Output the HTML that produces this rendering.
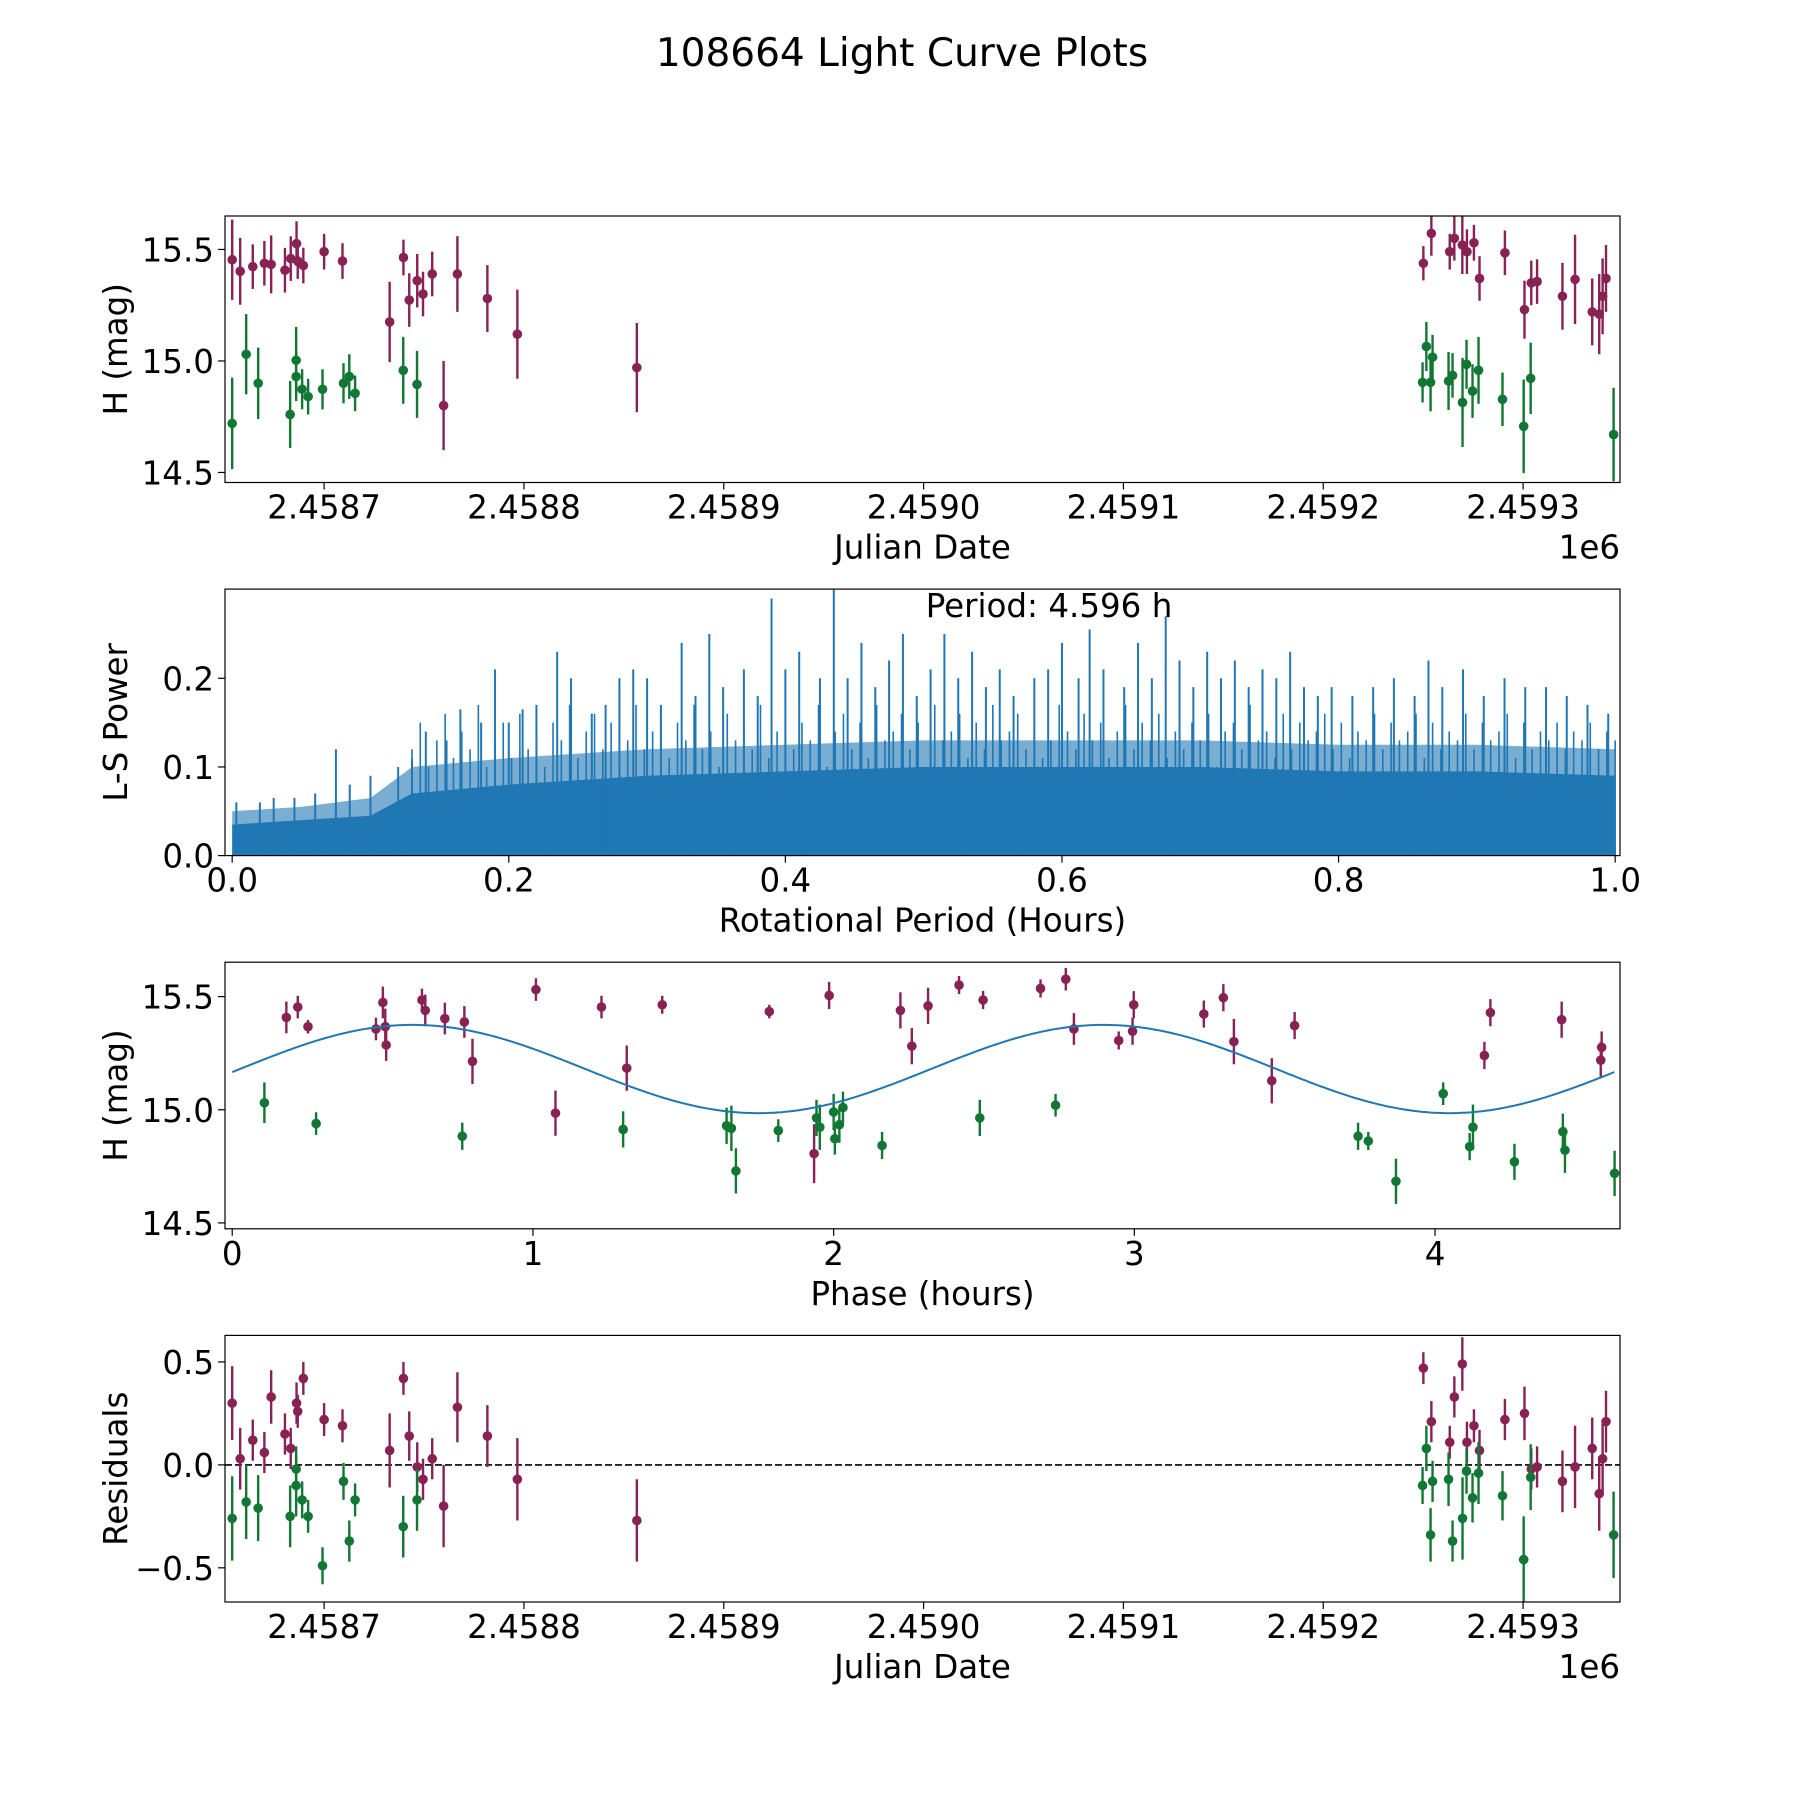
<!DOCTYPE html>
<html><head><meta charset="utf-8"><style>
html,body{margin:0;padding:0;background:#fff;}
svg{display:block;font-family:"DejaVu Sans","Liberation Sans",sans-serif;}
</style></head><body>
<svg id="fig" width="1800" height="1800" viewBox="0 0 1800 1800" xmlns="http://www.w3.org/2000/svg">
<rect width="1800" height="1800" fill="#fff"/>
<text x="902" y="66" font-size="39" text-anchor="middle">108664 Light Curve Plots</text>
</svg>
<script>
// ---------- data ----------
const magJD = [2458654.0,2458658.0,2458664.3,2458670.1,2458673.5,2458680.4,2458683.3,2458686.2,2458686.8,2458689.6,2458700.0,2458709.2,2458732.8,2458739.7,2458742.6,2458746.6,2458749.5,2458754.1,2458759.8,2458766.7,2458781.7,2458796.7,2458856.5,
 2459250.1,2459254.1,2459263.3,2459265.6,2459269.6,2459271.9,2459275.4,2459278.2,2459290.9,2459300.7,2459304.1,2459307.0,2459319.7,2459326.0,2459334.6,2459338.1,2459339.8,2459341.5];
const magH = [15.454,15.402,15.423,15.438,15.433,15.407,15.459,15.526,15.448,15.428,15.49,15.448,15.175,15.464,15.273,15.36,15.30,15.39,14.80,15.39,15.28,15.12,14.97,
 15.438,15.572,15.49,15.55,15.52,15.49,15.53,15.37,15.485,15.23,15.35,15.356,15.29,15.366,15.22,15.21,15.29,15.37];
const magErr = [0.18,0.15,0.1,0.1,0.13,0.1,0.1,0.1,0.08,0.08,0.08,0.08,0.18,0.08,0.12,0.12,0.1,0.1,0.2,0.17,0.15,0.2,0.2,
 0.077,0.1,0.08,0.1,0.13,0.1,0.08,0.1,0.1,0.13,0.1,0.1,0.15,0.2,0.15,0.18,0.17,0.15];
const grnJD = [2458654.0,2458661.0,2458667.0,2458683.0,2458686.0,2458686.0,2458689.0,2458692.0,2458699.2,2458709.7,2458712.6,2458715.5,2458739.6,2458746.5,
 2459249.7,2459251.6,2459253.7,2459254.7,2459262.7,2459264.7,2459269.7,2459271.7,2459274.7,2459277.7,2459289.7,2459300.3,2459303.8,2459345.3];
const grnH = [14.72,15.03,14.90,14.76,15.003,14.93,14.873,14.84,14.873,14.90,14.93,14.855,14.958,14.895,
 14.904,15.065,14.904,15.017,14.91,14.935,14.814,14.985,14.865,14.958,14.828,14.707,14.922,14.67];
const grnErr = [0.205,0.18,0.16,0.15,0.15,0.11,0.09,0.08,0.09,0.09,0.1,0.08,0.15,0.15,
 0.09,0.11,0.13,0.1,0.13,0.1,0.2,0.11,0.12,0.15,0.12,0.21,0.16,0.21];
const magRes = [0.30,0.03,0.12,0.06,0.33,0.15,0.08,0.30,0.26,0.42,0.22,0.19,0.07,0.42,0.14,-0.01,-0.07,0.03,-0.20,0.28,0.14,-0.07,-0.27,
 0.47,0.21,0.11,0.33,0.49,0.11,0.19,0.07,0.22,0.25,-0.02,-0.01,-0.08,-0.01,0.08,-0.14,0.03,0.21];
const grnRes = [-0.26,-0.18,-0.21,-0.25,-0.10,-0.02,-0.17,-0.25,-0.49,-0.08,-0.37,-0.17,-0.30,-0.17,
 -0.10,0.08,-0.34,-0.08,-0.07,-0.37,-0.26,-0.03,-0.16,-0.04,-0.15,-0.46,-0.06,-0.34];
const magPhase = [0.18,0.218,0.252,0.478,0.501,0.509,0.512,0.631,0.642,0.707,0.772,0.799,1.01,1.075,1.228,1.312,1.43,1.786,1.935,1.985,2.222,2.26,2.314,2.417,2.497,2.688,2.772,2.799,2.948,2.994,2.998,3.231,3.296,3.331,3.457,3.533,4.164,4.184,4.421,4.554,4.551];
const magPhaseH = [15.408,15.454,15.367,15.357,15.474,15.367,15.286,15.485,15.439,15.403,15.388,15.214,15.531,14.985,15.454,15.184,15.464,15.434,14.806,15.505,15.439,15.281,15.459,15.551,15.485,15.536,15.577,15.357,15.306,15.347,15.464,15.423,15.495,15.301,15.128,15.372,15.24,15.429,15.398,15.276,15.219];
const magPhaseErr = [0.07,0.05,0.03,0.05,0.07,0.08,0.07,0.05,0.07,0.07,0.07,0.1,0.05,0.1,0.05,0.1,0.04,0.03,0.13,0.06,0.08,0.08,0.08,0.04,0.04,0.04,0.05,0.07,0.04,0.06,0.06,0.06,0.06,0.1,0.1,0.06,0.06,0.06,0.08,0.07,0.08];
const grnPhase = [0.107,0.279,0.765,1.3,1.644,1.66,1.675,1.816,1.943,1.954,2.0,2.004,2.019,2.031,2.161,2.486,2.738,3.744,3.778,3.87,4.027,4.115,4.126,4.264,4.425,4.432,4.597];
const grnPhaseH = [15.031,14.939,14.883,14.913,14.929,14.918,14.73,14.908,14.964,14.923,14.99,14.872,14.934,15.01,14.842,14.964,15.02,14.883,14.862,14.684,15.071,14.837,14.923,14.77,14.903,14.821,14.719];
const grnPhaseErr = [0.09,0.05,0.06,0.08,0.08,0.1,0.1,0.05,0.08,0.1,0.08,0.07,0.08,0.07,0.06,0.08,0.05,0.06,0.04,0.1,0.05,0.06,0.1,0.08,0.08,0.1,0.1];
const modelMean = 15.18, modelAmp = 0.195, modelPeakPhase = 0.6, modelHalfPeriod = 2.298;
const periodTickLabels = ["0.0","0.2","0.4","0.6","0.8","1.0"];
const spikeX = [0.003,0.02,0.03,0.045,0.06,0.075,0.085,0.1,0.12,0.13,0.14,0.155,0.165,0.18,0.19,0.2,0.21,0.22,0.235,0.245,0.26,0.27,0.28,0.29,0.3,0.31,0.325,0.335,0.345,0.355,0.37,0.38,0.39,0.4,0.41,0.425,0.435,0.445,0.455,0.465,0.475,0.485,0.495,0.505,0.515,0.525,0.535,0.545,0.555,0.565,0.58,0.59,0.6,0.612,0.62,0.63,0.645,0.655,0.665,0.675,0.685,0.695,0.705,0.715,0.725,0.735,0.745,0.755,0.765,0.775,0.785,0.795,0.81,0.825,0.84,0.855,0.865,0.875,0.89,0.905,0.92,0.935,0.95,0.965,0.98,0.995];
const spikeP = [0.06,0.06,0.065,0.065,0.07,0.12,0.08,0.09,0.1,0.11,0.14,0.13,0.165,0.15,0.21,0.15,0.165,0.17,0.23,0.2,0.16,0.17,0.2,0.21,0.2,0.17,0.24,0.18,0.25,0.19,0.21,0.18,0.29,0.21,0.23,0.2,0.30,0.2,0.24,0.19,0.22,0.25,0.18,0.21,0.25,0.2,0.23,0.19,0.21,0.18,0.2,0.21,0.24,0.2,0.255,0.21,0.19,0.24,0.2,0.27,0.22,0.19,0.23,0.2,0.22,0.19,0.21,0.2,0.23,0.19,0.18,0.19,0.18,0.19,0.2,0.18,0.22,0.19,0.21,0.18,0.2,0.19,0.19,0.18,0.17,0.16];
const midStart = 0.13, midStep = 0.006;
const midP = [.12,.15,.10,.13,.16,.11,.14,.12,.17,.10,
.13,.15,.11,.16,.12,.14,.10,.15,.13,.17,
.11,.14,.16,.12,.15,.10,.13,.17,.12,.14,
.16,.11,.15,.13,.17,.12,.14,.10,.16,.13,
.15,.12,.17,.11,.14,.16,.12,.15,.13,.17,
.10,.14,.16,.12,.15,.11,.17,.13,.14,.16,
.12,.15,.10,.17,.13,.14,.16,.11,.15,.12,
.17,.13,.14,.16,.12,.15,.11,.13,.17,.14,
.12,.16,.13,.15,.11,.14,.17,.12,.15,.13,
.16,.11,.14,.12,.15,.13,.16,.10,.14,.15,
.12,.17,.13,.14,.11,.16,.12,.15,.13,.14,
.16,.12,.15,.11,.14,.13,.16,.12,.15,.13,
.14,.16,.11,.15,.12,.14,.13,.16,.12,.15,
.13,.14,.16,.11,.15,.12,.14,.13,.15,.12,
.14,.13,.15,.12,.14,.13];
const envX = [0.0,0.05,0.1,0.13,0.2,0.3,0.4,0.5,0.6,0.7,0.8,0.9,1.0];
const envCore = [0.035,0.04,0.045,0.07,0.08,0.09,0.095,0.1,0.1,0.1,0.095,0.095,0.09];
const envUpper = [0.05,0.055,0.065,0.1,0.11,0.12,0.125,0.13,0.13,0.13,0.125,0.125,0.12];

// ---------- layout ----------
const svg = document.getElementById('fig');
const NS = 'http://www.w3.org/2000/svg';
const L = 225, R = 1620;
const MAG = '#882255', GRN = '#117733', BLUE = '#1f77b4';
const FS = 32.5;
function el(tag, attrs, parent){const e=document.createElementNS(NS,tag);for(const k in attrs)e.setAttribute(k,attrs[k]);(parent||svg).appendChild(e);return e;}
function lin(d0,d1,p0,p1){return v=>p0+(v-d0)*(p1-p0)/(d1-d0);}

function axesBox(name){
  const g=el('g',{});
  
  
  return g;
}
function frame(g,top,bot){
  const r=el('rect',{x:L,y:top,width:R-L,height:bot-top,fill:'none',stroke:'#000','stroke-width':1.2},g);
  
  
}
function xtick(g,x,bot,label){
  const t=el('line',{x1:x,x2:x,y1:bot,y2:bot+7,stroke:'#000','stroke-width':1.2},g);
  
  
  const tx=el('text',{x:x,y:bot+36,'font-size':FS,'text-anchor':'middle'},g);
  tx.textContent=label;
  
  
}
function ytick(g,y,label){
  const t=el('line',{x1:L-7,x2:L,y1:y,y2:y,stroke:'#000','stroke-width':1.2},g);
  
  
  const tx=el('text',{x:L-11,y:y+12,'font-size':FS,'text-anchor':'end'},g);
  tx.textContent=label;
  
  
}
function xlabel(g,text,bot){
  const t=el('text',{x:(L+R)/2,y:bot+76,'font-size':FS,'text-anchor':'middle'},g);
  t.textContent=text;
  
  
}
function ylabel(g,text,top,bot){
  const cy=(top+bot)/2;
  const t=el('text',{x:127,y:cy,'font-size':FS,'text-anchor':'middle',transform:`rotate(-90 127 ${cy})`},g);
  t.textContent=text;
  
  
}
function offsetLabel(g,bot){
  const t=el('text',{x:R,y:bot+76,'font-size':FS,'text-anchor':'end'},g);
  t.textContent='1e6';
  
  
}
function errPoints(g,xs,ys,es,sx,sy,color,name,top,bot){
  for(let i=0;i<xs.length;i++){
    const x=sx(xs[i]);
    const y1=Math.max(top,sy(ys[i]+es[i])), y2=Math.min(bot,sy(ys[i]-es[i]));
    const ln=el('line',{x1:x,x2:x,y1:y1,y2:y2,stroke:color,'stroke-width':2.4},g);
    
    
    const c=el('circle',{cx:x,cy:sy(ys[i]),r:4.8,fill:color},g);
    
    
  }
}
const jdTicks=[2458700,2458800,2458900,2459000,2459100,2459200,2459300];
function jdLabel(v){return (v/1e6).toFixed(4);}
const jdMin=2458650.4, jdMax=2459348.5;

// ---------- panel 1 ----------
{
  const top=216,bot=482.5;
  const g=axesBox('light-curve-panel');
  const sx=lin(jdMin,jdMax,L,R), sy=lin(14.455,15.65,bot,top);
  const clip=el('clipPath',{id:'c1'},g); el('rect',{x:L,y:top,width:R-L,height:bot-top},clip);
  const pg=el('g',{'clip-path':'url(#c1)'},g);
  errPoints(pg,magJD,magH,magErr,sx,sy,MAG,'magenta-band',top,bot);
  errPoints(pg,grnJD,grnH,grnErr,sx,sy,GRN,'green-band',top,bot);
  frame(g,top,bot);
  jdTicks.forEach(v=>xtick(g,sx(v),bot,jdLabel(v)));
  [14.5,15.0,15.5].forEach(v=>ytick(g,sy(v),v.toFixed(1)));
  xlabel(g,'Julian Date',bot); offsetLabel(g,bot); ylabel(g,'H (mag)',top,bot);
}
// ---------- panel 2 ----------
{
  const top=589.1,bot=855.6;
  const g=axesBox('periodogram-panel');
  const sx=lin(-0.0052,1.0035,L,R), sy=lin(0,0.3006,bot,top);
  const clip=el('clipPath',{id:'c2'},g); el('rect',{x:L,y:top,width:R-L,height:bot-top},clip);
  const pg=el('g',{'clip-path':'url(#c2)'},g);
  let up=`M${sx(envX[0])},${sy(0)}`; envX.forEach((v,i)=>up+=` L${sx(v)},${sy(envUpper[i])}`); up+=` L${sx(envX[envX.length-1])},${sy(0)} Z`;
  const pu=el('path',{d:up,fill:BLUE,opacity:0.6},pg);
  
  
  let core=`M${sx(envX[0])},${sy(0)}`; envX.forEach((v,i)=>core+=` L${sx(v)},${sy(envCore[i])}`); core+=` L${sx(envX[envX.length-1])},${sy(0)} Z`;
  const pc=el('path',{d:core,fill:BLUE},pg);
  
  
  for(let i=0;i<midP.length;i++){
    const px=midStart+i*midStep;
    const s=el('line',{x1:sx(px),x2:sx(px),y1:sy(0),y2:sy(midP[i]),stroke:BLUE,'stroke-width':1.6},pg);
    
    
  }
  for(let i=0;i<spikeX.length;i++){
    const s=el('line',{x1:sx(spikeX[i]),x2:sx(spikeX[i]),y1:sy(0),y2:sy(spikeP[i]),stroke:BLUE,'stroke-width':2},pg);
    
    
  }
  frame(g,top,bot);
  periodTickLabels.forEach(lbl=>xtick(g,sx(parseFloat(lbl)),bot,lbl));
  [0,0.1,0.2].forEach(v=>ytick(g,sy(v),v.toFixed(1)));
  xlabel(g,'Rotational Period (Hours)',bot); ylabel(g,'L-S Power',top,bot);
  const pt=el('text',{x:1049,y:617,'font-size':FS,'text-anchor':'middle'},g);
  pt.textContent='Period: 4.596 h';
  
  
}
// ---------- panel 3 ----------
{
  const top=962.2,bot=1228.8;
  const g=axesBox('phase-folded-panel');
  const sx=lin(-0.024,4.615,L,R), sy=lin(14.474,15.652,bot,top);
  const clip=el('clipPath',{id:'c3'},g); el('rect',{x:L,y:top,width:R-L,height:bot-top},clip);
  const pg=el('g',{'clip-path':'url(#c3)'},g);
  errPoints(pg,magPhase,magPhaseH,magPhaseErr,sx,sy,MAG,'magenta-phase',top,bot);
  errPoints(pg,grnPhase,grnPhaseH,grnPhaseErr,sx,sy,GRN,'green-phase',top,bot);
  let d='';
  for(let k=0;k<=400;k++){const p=4.596*k/400;const m=modelMean+modelAmp*Math.cos(2*Math.PI*(p-modelPeakPhase)/modelHalfPeriod);d+=(k?' L':'M')+sx(p).toFixed(1)+','+sy(m).toFixed(1);}
  const mp=el('path',{d:d,fill:'none',stroke:BLUE,'stroke-width':2},pg);
  
  
  frame(g,top,bot);
  [0,1,2,3,4].forEach(v=>xtick(g,sx(v),bot,String(v)));
  [14.5,15.0,15.5].forEach(v=>ytick(g,sy(v),v.toFixed(1)));
  xlabel(g,'Phase (hours)',bot); ylabel(g,'H (mag)',top,bot);
}
// ---------- panel 4 ----------
{
  const top=1335.4,bot=1602;
  const g=axesBox('residuals-panel');
  const sx=lin(jdMin,jdMax,L,R), sy=lin(-0.666,0.629,bot,top);
  const clip=el('clipPath',{id:'c4'},g); el('rect',{x:L,y:top,width:R-L,height:bot-top},clip);
  const pg=el('g',{'clip-path':'url(#c4)'},g);
  const z=el('line',{x1:L,x2:R,y1:sy(0),y2:sy(0),stroke:'#000','stroke-width':1.6,'stroke-dasharray':'7,3'},pg);
  
  
  errPoints(pg,magJD,magRes,magErr,sx,sy,MAG,'magenta-residual',top,bot);
  errPoints(pg,grnJD,grnRes,grnErr,sx,sy,GRN,'green-residual',top,bot);
  frame(g,top,bot);
  jdTicks.forEach(v=>xtick(g,sx(v),bot,jdLabel(v)));
  [-0.5,0,0.5].forEach(v=>ytick(g,sy(v),(v<0?'\u2212':'')+Math.abs(v).toFixed(1)));
  xlabel(g,'Julian Date',bot); offsetLabel(g,bot); ylabel(g,'Residuals',top,bot);
}
</script>
</body></html>
